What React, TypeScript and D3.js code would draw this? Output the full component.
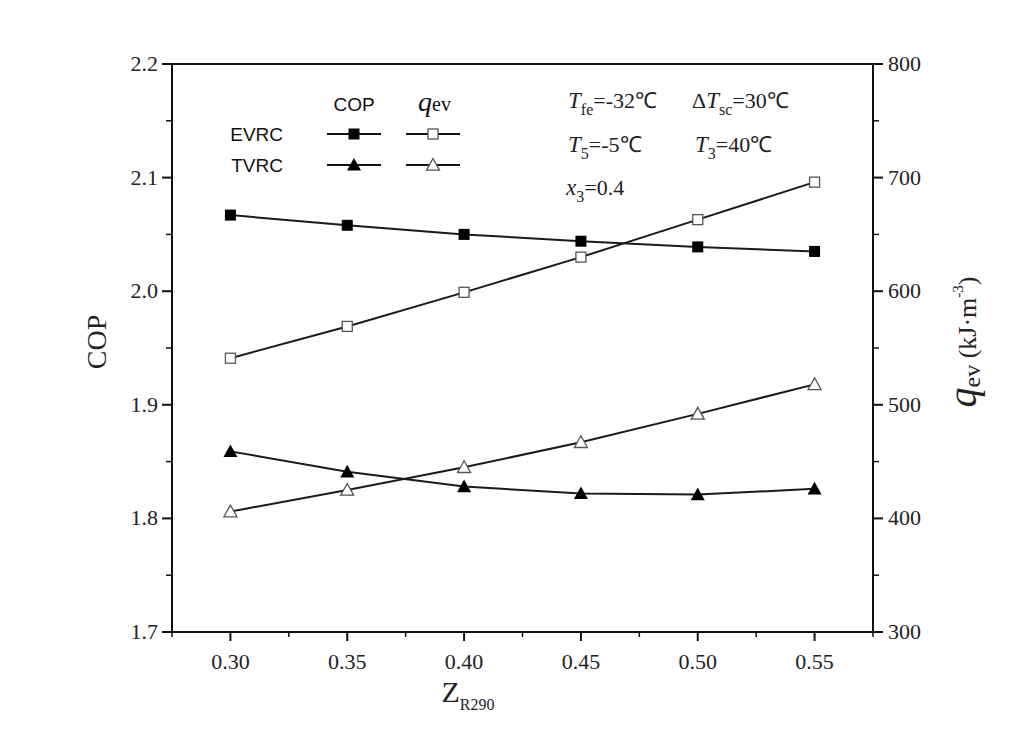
import React from 'react';
import * as d3 from 'd3';

// Z_R290 values
const zValues = [0.3, 0.35, 0.4, 0.45, 0.5, 0.55];
// COP
const evrcCop = [2.067, 2.058, 2.05, 2.044, 2.039, 2.035];
const tvrcCop = [1.859, 1.841, 1.828, 1.822, 1.821, 1.826];
// q_ev (kJ·m-3)
const evrcQev = [541, 569, 599, 630, 663, 696];
const tvrcQev = [406, 425, 445, 467, 492, 518];

const xTicks = [0.3, 0.35, 0.4, 0.45, 0.5, 0.55];
const xMinor = [0.275, 0.325, 0.375, 0.425, 0.475, 0.525, 0.575];
const copTicks = [1.7, 1.8, 1.9, 2.0, 2.1, 2.2];
const copMinor = [1.75, 1.85, 1.95, 2.05, 2.15];
const qevTicks = [300, 400, 500, 600, 700, 800];
const qevMinor = [350, 450, 550, 650, 750];

const W = 1029;
const H = 729;
const left = 172, right = 873, top = 64, bottom = 632;

const serif = '"Liberation Serif", "Times New Roman", serif';
const sans = '"Liberation Sans", Arial, sans-serif';

function Marker({ kind, x, y }: { kind: string; x: number; y: number }) {
  if (kind === 'fsq') return <rect x={x - 5.5} y={y - 5.5} width={11} height={11} fill="#000" />;
  if (kind === 'osq') return <rect x={x - 5} y={y - 5} width={10} height={10} fill="#fff" stroke="#555" strokeWidth={1.3} />;
  const s = kind === 'ftri' ? 7 : 6.5;
  const pts = `${x},${y - s} ${x - s},${y + s * 0.8} ${x + s},${y + s * 0.8}`;
  if (kind === 'ftri') return <polygon points={pts} fill="#000" />;
  return <polygon points={pts} fill="#fff" stroke="#555" strokeWidth={1.3} />;
}

export default function App() {
  const x = d3.scaleLinear().domain([0.275, 0.575]).range([left, right]);
  const yCop = d3.scaleLinear().domain([1.7, 2.2]).range([bottom, top]);
  const yQev = d3.scaleLinear().domain([300, 800]).range([bottom, top]);

  const line = (vals: number[], y: d3.ScaleLinear<number, number>) =>
    d3.line<number>().x((_, i) => x(zValues[i])).y((d) => y(d))(vals) || '';

  const series = [
    { vals: evrcCop, y: yCop, kind: 'fsq' },
    { vals: evrcQev, y: yQev, kind: 'osq' },
    { vals: tvrcCop, y: yCop, kind: 'ftri' },
    { vals: tvrcQev, y: yQev, kind: 'otri' },
  ];

  return (
    <svg width={W} height={H} style={{ position: 'absolute', left: 0, top: 0, background: '#fff' }}>
      {/* frame */}
      <rect x={left} y={top} width={right - left} height={bottom - top} fill="none" stroke="#111" strokeWidth={2} />

      {/* x axis ticks */}
      {xTicks.map((t) => (
        <g key={'xt' + t}>
          <line x1={x(t)} x2={x(t)} y1={bottom} y2={bottom + 9} stroke="#111" strokeWidth={2} />
          <text x={x(t)} y={bottom + 37} textAnchor="middle" fontFamily={serif} fontSize={22} fill="#222">
            {d3.format('.2f')(t)}
          </text>
        </g>
      ))}
      {xMinor.map((t) => (
        <line key={'xm' + t} x1={x(t)} x2={x(t)} y1={bottom} y2={bottom + 5} stroke="#111" strokeWidth={1.5} />
      ))}

      {/* left axis */}
      {copTicks.map((t) => (
        <g key={'yl' + t}>
          <line x1={left - 10} x2={left} y1={yCop(t)} y2={yCop(t)} stroke="#111" strokeWidth={2} />
          <text x={left - 14} y={yCop(t) + 7} textAnchor="end" fontFamily={serif} fontSize={22} fill="#222">
            {d3.format('.1f')(t)}
          </text>
        </g>
      ))}
      {copMinor.map((t) => (
        <line key={'ylm' + t} x1={left - 6} x2={left} y1={yCop(t)} y2={yCop(t)} stroke="#111" strokeWidth={1.5} />
      ))}

      {/* right axis */}
      {qevTicks.map((t) => (
        <g key={'yr' + t}>
          <line x1={right} x2={right + 10} y1={yQev(t)} y2={yQev(t)} stroke="#111" strokeWidth={2} />
          <text x={right + 15} y={yQev(t) + 7} textAnchor="start" fontFamily={serif} fontSize={22} fill="#222">
            {t}
          </text>
        </g>
      ))}
      {qevMinor.map((t) => (
        <line key={'yrm' + t} x1={right} x2={right + 6} y1={yQev(t)} y2={yQev(t)} stroke="#111" strokeWidth={1.5} />
      ))}

      {/* axis titles */}
      <text transform="translate(106,342) rotate(-90)" textAnchor="middle" fontFamily={serif} fontSize={28} fill="#222">
        COP
      </text>
      <text x={468} y={702} textAnchor="middle" fontFamily={serif} fill="#222">
        <tspan fontSize={30}>Z</tspan>
        <tspan fontSize={16} dy={8}>R290</tspan>
      </text>
      <text transform="translate(976,342) rotate(-90)" textAnchor="middle" fontFamily={serif} fill="#222">
        <tspan fontSize={40} fontStyle="italic">q</tspan>
        <tspan fontSize={24} dy={4}>ev</tspan>
        <tspan fontSize={26} dy={-4}> (kJ·m</tspan>
        <tspan fontSize={15} dy={-13}>-3</tspan>
        <tspan fontSize={26} dy={13}>)</tspan>
      </text>

      {/* data lines */}
      {series.map((s, i) => (
        <path key={'l' + i} d={line(s.vals, s.y)} fill="none" stroke="#1a1a1a" strokeWidth={2} />
      ))}
      {series.map((s, i) =>
        s.vals.map((v, j) => <Marker key={'m' + i + '-' + j} kind={s.kind} x={x(zValues[j])} y={s.y(v)} />)
      )}

      {/* legend */}
      <text x={354} y={111} textAnchor="middle" fontFamily={sans} fontSize={19} fill="#111">COP</text>
      <text x={418} y={111} fontFamily={serif} fill="#111">
        <tspan fontSize={28} fontStyle="italic">q</tspan>
        <tspan fontSize={20}>ev</tspan>
      </text>
      <text x={283} y={141} textAnchor="end" fontFamily={sans} fontSize={19} fill="#111">EVRC</text>
      <text x={283} y={172} textAnchor="end" fontFamily={sans} fontSize={19} fill="#111">TVRC</text>
      {[
        { cx: 354, cy: 134, kind: 'fsq' },
        { cx: 433, cy: 134, kind: 'osq' },
        { cx: 354, cy: 165, kind: 'ftri' },
        { cx: 433, cy: 165, kind: 'otri' },
      ].map((l, i) => (
        <g key={'lg' + i}>
          <line x1={l.cx - 27} x2={l.cx + 27} y1={l.cy} y2={l.cy} stroke="#111" strokeWidth={2} />
          <Marker kind={l.kind} x={l.cx} y={l.cy} />
        </g>
      ))}

      {/* conditions */}
      <g fontFamily={serif} fill="#222">
        <text x={568} y={108}>
          <tspan fontSize={23} fontStyle="italic">T</tspan>
          <tspan fontSize={16} dy={7}>fe</tspan>
          <tspan fontSize={22} dy={-7}>=-32℃</tspan>
        </text>
        <text x={692} y={108}>
          <tspan fontSize={22}>Δ</tspan>
          <tspan fontSize={23} fontStyle="italic">T</tspan>
          <tspan fontSize={16} dy={7}>sc</tspan>
          <tspan fontSize={22} dy={-7}>=30℃</tspan>
        </text>
        <text x={568} y={152}>
          <tspan fontSize={23} fontStyle="italic">T</tspan>
          <tspan fontSize={16} dy={7}>5</tspan>
          <tspan fontSize={22} dy={-7}>=-5℃</tspan>
        </text>
        <text x={695} y={152}>
          <tspan fontSize={23} fontStyle="italic">T</tspan>
          <tspan fontSize={16} dy={7}>3</tspan>
          <tspan fontSize={22} dy={-7}>=40℃</tspan>
        </text>
        <text x={566} y={195}>
          <tspan fontSize={23} fontStyle="italic">x</tspan>
          <tspan fontSize={16} dy={7}>3</tspan>
          <tspan fontSize={22} dy={-7}>=0.4</tspan>
        </text>
      </g>
    </svg>
  );
}
